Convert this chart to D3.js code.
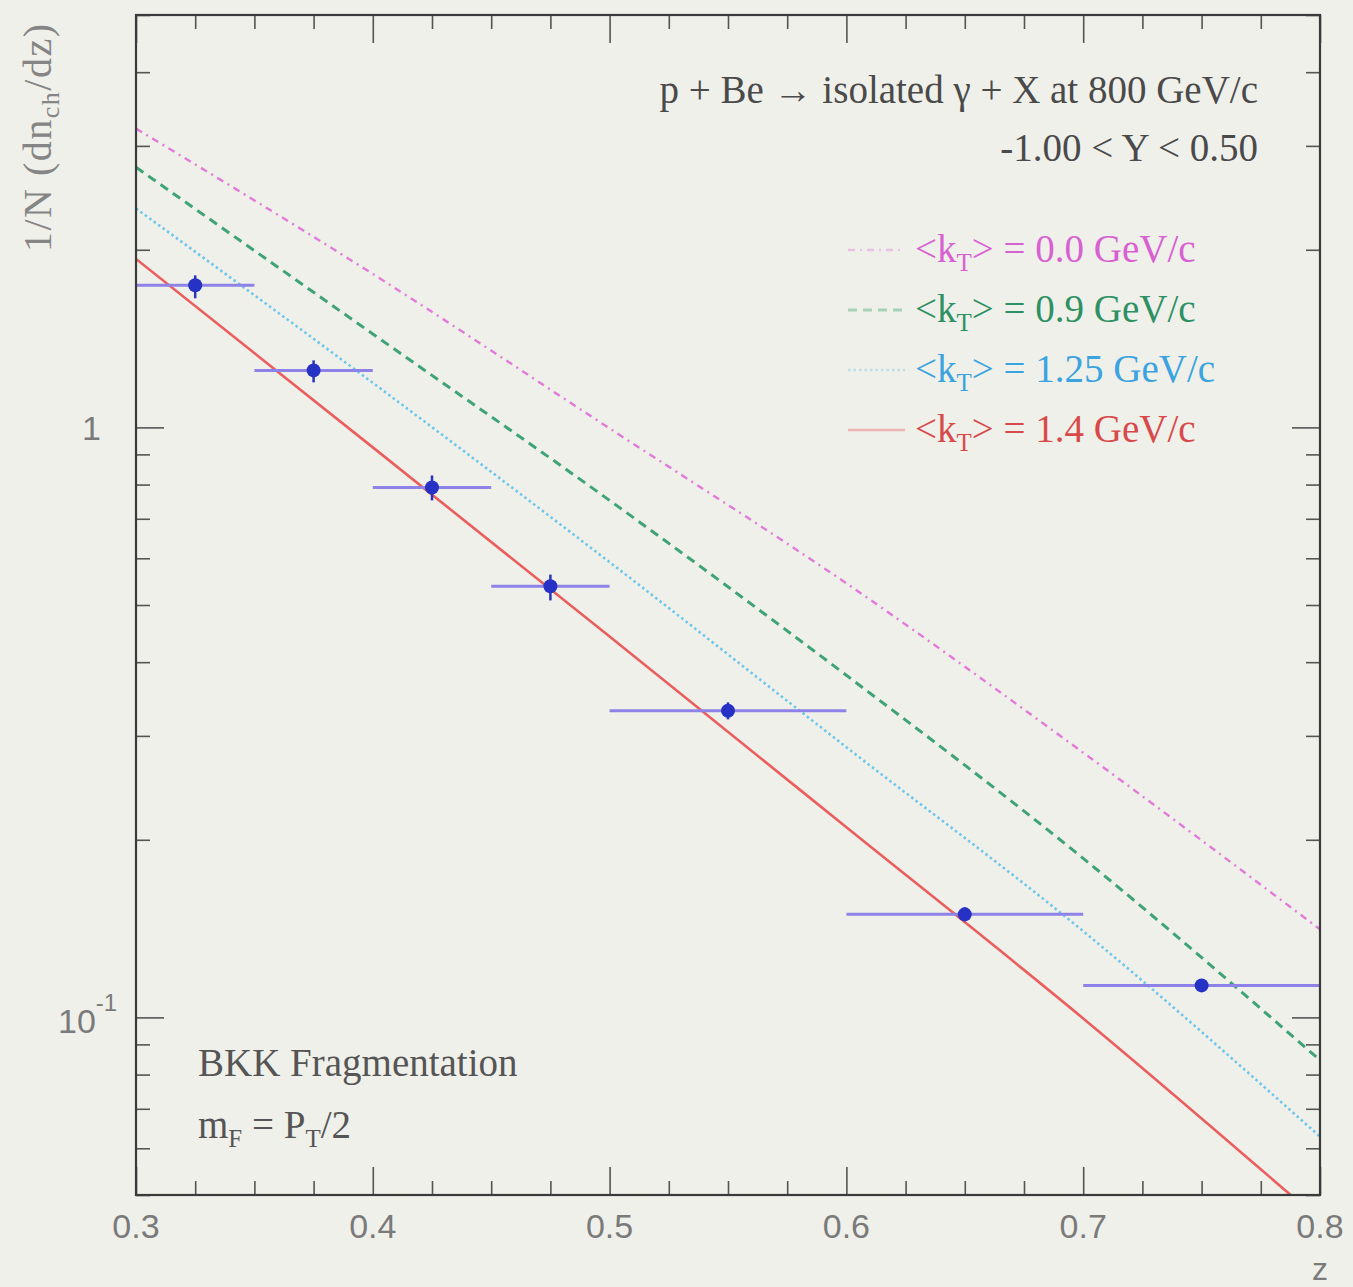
<!DOCTYPE html>
<html><head><meta charset="utf-8">
<script src="https://cdn.jsdelivr.net/npm/d3@7"></script>
<style>
html,body{margin:0;padding:0;background:#f0f0ea;}
svg{display:block;}
</style></head>
<body>
<svg id="c" width="1353" height="1287"></svg>
<script>
// ---- data ----
const zGrid = [0.3, 0.4, 0.5, 0.6, 0.7, 0.8];
const kt00 = [3.21, 1.82, 0.996, 0.544, 0.281, 0.141];
const kt09 = [2.76, 1.44, 0.752, 0.380, 0.186, 0.0846];
const kt125 = [2.35, 1.19, 0.591, 0.287, 0.140, 0.0628];
const kt14 = [1.93, 0.925, 0.442, 0.210, 0.0996, 0.0453];
const seriesLabels = ["0.0", "0.9", "1.25", "1.4"];

const dataZ = [0.325, 0.375, 0.425, 0.475, 0.55, 0.65, 0.75];
const dataZlo = [0.30, 0.35, 0.40, 0.45, 0.50, 0.60, 0.70];
const dataZhi = [0.35, 0.40, 0.45, 0.50, 0.60, 0.70, 0.80];
const dataY = [1.741, 1.249, 0.791, 0.538, 0.331, 0.1495, 0.1133];
const dataYlo = [1.655, 1.192, 0.752, 0.509, 0.320, 0.1455, 0.1108];
const dataYhi = [1.810, 1.299, 0.829, 0.563, 0.342, 0.1537, 0.1158];

const xMajor = [0.3, 0.4, 0.5, 0.6, 0.7, 0.8];
const xMinor = [0.325,0.35,0.375,0.425,0.45,0.475,0.525,0.55,0.575,0.625,0.65,0.675,0.725,0.75,0.775];
const yMajor = [0.1, 1];
const yMinor = [0.05,0.06,0.07,0.08,0.09,0.2,0.3,0.4,0.5,0.6,0.7,0.8,0.9,2,3,4,5];

// ---- layout ----
const L = 136, R = 1320, T = 15, B = 1195;
const svg = d3.select("#c");
svg.append("rect").attr("width",1353).attr("height",1287).attr("fill","#f0f0ea");

const x = d3.scaleLinear().domain([0.3, 0.8]).range([L, R]);
const y = d3.scaleLog().domain([0.05, 5]).range([B, T]);

const styles = [
  {color:"#e27ad9", text:"#d861d2", dash:"7,5,2,5", w:2.4},
  {color:"#3fa375", text:"#2e9163", dash:"9,6", w:3},
  {color:"#6cc6ec", text:"#3aa3e0", dash:"2.5,3", w:2.6},
  {color:"#ea5e5e", text:"#d84a4a", dash:null, w:2.6}
];
const series = [kt00, kt09, kt125, kt14];

svg.append("defs").append("clipPath").attr("id","pa")
  .append("rect").attr("x",L).attr("y",T).attr("width",R-L).attr("height",B-T);

const line = d3.line().x(d=>x(d[0])).y(d=>y(d[1])).curve(d3.curveMonotoneX);
const gl = svg.append("g").attr("clip-path","url(#pa)");
series.forEach((s,i)=>{
  gl.append("path").datum(zGrid.map((z,j)=>[z,s[j]]))
    .attr("d", line).attr("fill","none")
    .attr("stroke", styles[i].color).attr("stroke-width", styles[i].w)
    .attr("stroke-dasharray", styles[i].dash);
});

// data points
const gp = svg.append("g").attr("clip-path","url(#pa)");
dataZ.forEach((z,i)=>{
  gp.append("line").attr("x1",x(dataZlo[i])).attr("x2",x(dataZhi[i]))
    .attr("y1",y(dataY[i])).attr("y2",y(dataY[i]))
    .attr("stroke","#8e82e8").attr("stroke-width",3);
  gp.append("line").attr("x1",x(z)).attr("x2",x(z))
    .attr("y1",y(dataYlo[i])).attr("y2",y(dataYhi[i]))
    .attr("stroke","#2a36b8").attr("stroke-width",2.5);
  gp.append("circle").attr("cx",x(z)).attr("cy",y(dataY[i])).attr("r",7)
    .attr("fill","#2632c4");
});

// ---- axes ----
const axCol = "#555";
function styleAxis(g){
  g.select(".domain").remove();
  g.selectAll(".tick line").attr("stroke",axCol).attr("stroke-width",1.6);
  g.selectAll("text").remove();
}
const MAJ = 28, MIN = 14;
svg.append("g").attr("transform",`translate(0,${B})`)
  .call(d3.axisBottom(x).tickValues(xMajor).tickSize(-MAJ)).call(styleAxis);
svg.append("g").attr("transform",`translate(0,${B})`)
  .call(d3.axisBottom(x).tickValues(xMinor).tickSize(-MIN)).call(styleAxis);
svg.append("g").attr("transform",`translate(0,${T})`)
  .call(d3.axisTop(x).tickValues(xMajor).tickSize(-MAJ)).call(styleAxis);
svg.append("g").attr("transform",`translate(0,${T})`)
  .call(d3.axisTop(x).tickValues(xMinor).tickSize(-MIN)).call(styleAxis);
svg.append("g").attr("transform",`translate(${L},0)`)
  .call(d3.axisLeft(y).tickValues(yMajor).tickSize(-MAJ)).call(styleAxis);
svg.append("g").attr("transform",`translate(${L},0)`)
  .call(d3.axisLeft(y).tickValues(yMinor).tickSize(-MIN)).call(styleAxis);
svg.append("g").attr("transform",`translate(${R},0)`)
  .call(d3.axisRight(y).tickValues(yMajor).tickSize(-MAJ)).call(styleAxis);
svg.append("g").attr("transform",`translate(${R},0)`)
  .call(d3.axisRight(y).tickValues(yMinor).tickSize(-MIN)).call(styleAxis);

svg.append("rect").attr("x",L).attr("y",T).attr("width",R-L).attr("height",B-T)
  .attr("fill","none").attr("stroke","#3a3a3a").attr("stroke-width",2.2);

// tick labels
const sans = "'Liberation Sans', Arial, sans-serif";
const serif = "'Liberation Serif', 'Times New Roman', serif";
const tickCol = "#7a7a7a";
svg.append("g").selectAll("text").data(xMajor).join("text")
  .attr("x",d=>x(d)).attr("y",B+43).attr("text-anchor","middle")
  .attr("font-family",sans).attr("font-size",34).attr("fill",tickCol)
  .text(d=>d3.format(".1f")(d));
svg.append("text").attr("x",R-8).attr("y",1280).attr("font-family",sans)
  .attr("font-size",32).attr("fill",tickCol).text("z");

svg.append("text").attr("x",101).attr("y",y(1)+13).attr("text-anchor","end")
  .attr("font-family",sans).attr("font-size",34).attr("fill",tickCol).text("1");
const t10 = svg.append("text").attr("x",58).attr("y",y(0.1)+16)
  .attr("font-family",sans).attr("font-size",34).attr("fill",tickCol);
t10.append("tspan").text("10");
t10.append("tspan").attr("dy",-22).attr("font-size",24).text("-1");

// y title
const yt = svg.append("text").attr("transform","translate(51,252) rotate(-90)")
  .attr("font-family",serif).attr("font-size",40).attr("fill","#858585")
  .attr("letter-spacing",1.5);
yt.append("tspan").text("1/N (dn");
yt.append("tspan").attr("font-size",26).attr("dy",8).text("ch");
yt.append("tspan").attr("dy",-8).text("/dz)");

// header texts
const txtCol = "#4a4a4a";
svg.append("text").attr("x",1258).attr("y",103).attr("text-anchor","end")
  .attr("font-family",serif).attr("font-size",39).attr("fill",txtCol)
  .text("p + Be \u2192 isolated \u03b3 + X at 800 GeV/c");
svg.append("text").attr("x",1258).attr("y",161).attr("text-anchor","end")
  .attr("font-family",serif).attr("font-size",39).attr("fill",txtCol)
  .text("-1.00 < Y < 0.50");

// legend
const legY = [250, 310, 370, 430];
seriesLabels.forEach((lab,i)=>{
  svg.append("line").attr("x1",848).attr("x2",905).attr("y1",legY[i]).attr("y2",legY[i])
    .attr("stroke",styles[i].color).attr("stroke-width",styles[i].w)
    .attr("stroke-dasharray",styles[i].dash).attr("opacity",0.4);
  const t = svg.append("text").attr("x",915).attr("y",legY[i]+12)
    .attr("font-family",serif).attr("font-size",39).attr("fill",styles[i].text);
  t.append("tspan").text("<k");
  t.append("tspan").attr("font-size",25).attr("dy",9).text("T");
  t.append("tspan").attr("dy",-9).text("> = " + lab + " GeV/c");
});

// bottom-left notes
svg.append("text").attr("x",198).attr("y",1076)
  .attr("font-family",serif).attr("font-size",39).attr("fill","#555")
  .text("BKK Fragmentation");
const b2 = svg.append("text").attr("x",198).attr("y",1138)
  .attr("font-family",serif).attr("font-size",39).attr("fill","#555");
b2.append("tspan").text("m");
b2.append("tspan").attr("font-size",25).attr("dy",9).text("F");
b2.append("tspan").attr("dy",-9).text(" = P");
b2.append("tspan").attr("font-size",25).attr("dy",9).text("T");
b2.append("tspan").attr("dy",-9).text("/2");
</script>
</body></html>
